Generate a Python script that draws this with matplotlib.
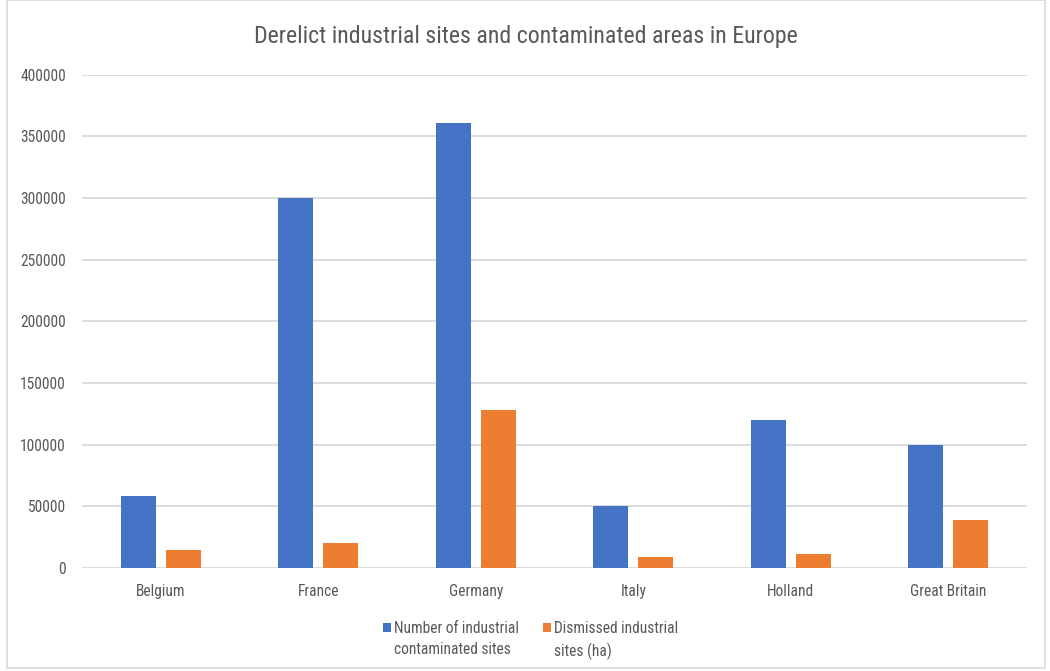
import matplotlib
matplotlib.use("Agg")
import matplotlib.pyplot as plt
from matplotlib.patches import Rectangle
import numpy as np

plt.rcParams['font.family'] = ['Roboto Condensed', 'Roboto', 'DejaVu Sans']

countries = ["Belgium", "France", "Germany", "Italy", "Holland", "Great Britain"]
contaminated_sites = [58000, 300000, 361000, 50000, 120000, 100000]
dismissed_ha = [14500, 20000, 128000, 9000, 11000, 39000]
series_names = ["Number of industrial\ncontaminated sites", "Dismissed industrial\nsites (ha)"]
yticks = [0, 50000, 100000, 150000, 200000, 250000, 300000, 350000, 400000]

BLUE = "#4472C4"
ORANGE = "#ED7D31"
TEXT = "#595959"
GRID = "#D9D9D9"

W, H = 1050, 671
fig = plt.figure(figsize=(W / 100, H / 100), dpi=100)
ax = fig.add_axes([82 / W, 1 - 568 / H, 945 / W, (568 - 74.7) / H])

x = np.arange(len(countries))
w = 0.222
off = 0.143
ax.bar(x - off, contaminated_sites, width=w, color=BLUE, zorder=3)
ax.bar(x + off, dismissed_ha, width=w, color=ORANGE, zorder=3)

ax.set_xlim(-0.5, len(countries) - 0.5)
ax.set_ylim(0, 400000)
ax.set_yticks(yticks)
ax.set_yticklabels([str(v) for v in yticks])
ax.set_xticks(x)
ax.set_xticklabels(countries)
ax.tick_params(axis='both', length=0, labelsize=11.2, colors=TEXT)
ax.tick_params(axis='y', pad=11.5)
ax.tick_params(axis='x', pad=11.5)
ax.grid(axis='y', color=GRID, linewidth=1.3, zorder=0)
for s in ax.spines.values():
    s.set_visible(False)

fig.text(526 / W, 1 - 37 / H, "Derelict industrial sites and contaminated areas in Europe",
         ha='center', va='center', fontsize=17.2, color=TEXT)

# legend: square swatch aligned with the first line of each two-line label
legend_items = [(382.5, BLUE, series_names[0]), (542.5, ORANGE, series_names[1])]
for lx, col, label in legend_items:
    fig.patches.append(Rectangle((lx / W, 1 - 632 / H), 8 / W, 9 / H,
                                 transform=fig.transFigure, facecolor=col, edgecolor='none'))
    fig.text((lx + 12) / W, 1 - 621 / H, label, ha='left', va='top', fontsize=11.2,
             color=TEXT, linespacing=1.5)

fig.patches.append(Rectangle((7 / W, 3 / H), 1038 / W, 668 / H,
                             transform=fig.transFigure, fill=False, edgecolor=GRID, linewidth=1.2))

fig.savefig("out.png", dpi=100, facecolor="white")
